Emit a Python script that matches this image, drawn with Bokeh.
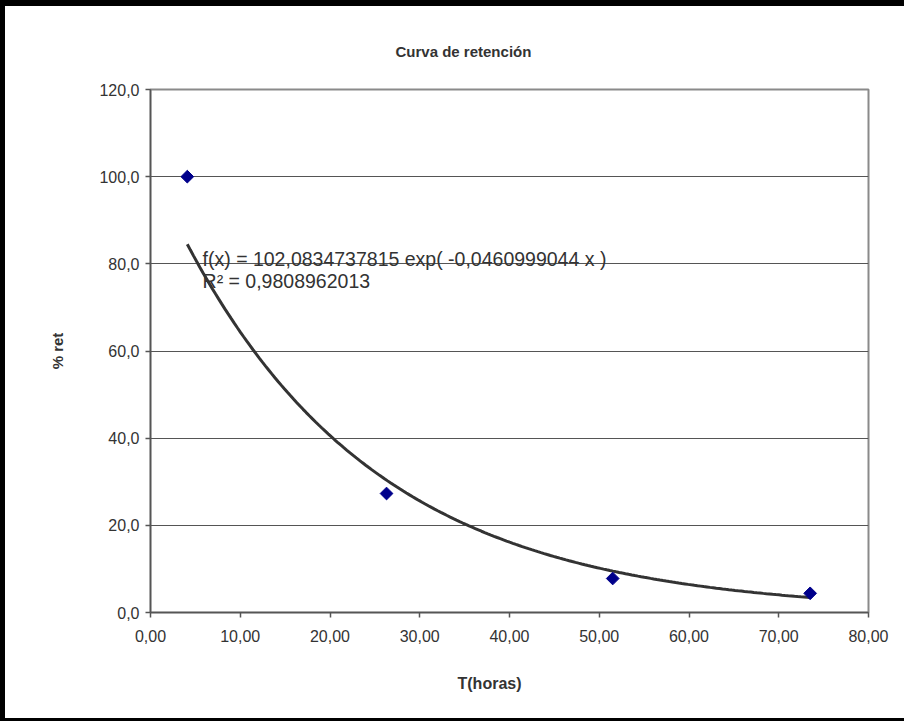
import numpy as np
from bokeh.plotting import figure
from bokeh.models import Title, FixedTicker, CustomJSTickFormatter, Range1d, Label
from bokeh.embed import file_html
from bokeh.resources import INLINE

# ---- data ----
title_text = "Curva de retención"
x_label = "T(horas)"
y_label = "% ret"
t_horas = [4.1, 26.3, 51.5, 73.5]
pct_ret = [100.0, 27.3, 7.8, 4.4]
# exponential trend line as printed on the chart
fit_a = 102.0834737815
fit_b = -0.0460999044
fit_text = "f(x) = 102,0834737815 exp( -0,0460999044 x )"
r2_text = "R² = 0,9808962013"
x_ticks = [0, 10, 20, 30, 40, 50, 60, 70, 80]
y_ticks = [0, 20, 40, 60, 80, 100, 120]

FONT = "Liberation Sans"
TXT = "#333333"

p = figure(
    width=904, height=721,
    output_backend="svg", toolbar_location=None,
    x_range=Range1d(0, 80), y_range=Range1d(0, 120),
    min_border_left=145, min_border_top=83, min_border_right=41, min_border_bottom=115,
    background_fill_color="white", border_fill_color="white",
)
p.styles = {
    "border-top": "6px solid black",
    "border-left": "5px solid black",
    "border-bottom": "3px solid black",
}

p.outline_line_color = "#8a8a8a"
p.outline_line_width = 2

# title
p.title.text = title_text
p.title.align = "left"
p.title.offset = 245
p.title.standoff = 60
p.title.text_font = FONT
p.title.text_font_size = "15px"
p.title.text_font_style = "bold"
p.title.text_color = TXT

# grid
p.xgrid.visible = False
p.ygrid.ticker = FixedTicker(ticks=y_ticks)
p.ygrid.grid_line_color = "#555555"
p.ygrid.grid_line_width = 1

# axes
p.xaxis.ticker = FixedTicker(ticks=x_ticks)
p.yaxis.ticker = FixedTicker(ticks=y_ticks)
p.xaxis.formatter = CustomJSTickFormatter(code="return tick.toFixed(2).replace('.', ',');")
p.yaxis.formatter = CustomJSTickFormatter(code="return tick.toFixed(1).replace('.', ',');")
for ax in (p.xaxis, p.yaxis):
    ax.axis_line_color = "#555555"
    ax.axis_line_width = 1.5
    ax.major_tick_line_color = "#555555"
    ax.major_tick_line_width = 1.5
    ax.major_tick_out = 5
    ax.major_tick_in = 0
    ax.minor_tick_line_color = None
    ax.major_label_text_font = FONT
    ax.major_label_text_font_size = "16px"
    ax.major_label_text_color = TXT
    ax.axis_label_text_font = FONT
    ax.axis_label_text_font_size = "15px"
    ax.axis_label_text_font_style = "bold"
    ax.axis_label_text_color = TXT
p.yaxis.major_label_standoff = 6
p.xaxis.major_label_standoff = 12
p.yaxis.axis_label = y_label
p.yaxis.axis_label_standoff = 30

# x-axis label placed like the reference (left of frame centre)
p.add_layout(Title(text=x_label, align="left", offset=307, standoff=56, text_font=FONT,
                   text_font_size="16px", text_font_style="bold", text_color=TXT), "below")

# trend line from the printed equation
xs = np.linspace(min(t_horas), max(t_horas), 200)
ys = fit_a * np.exp(fit_b * xs)
p.line(xs, ys, line_color="#333333", line_width=3)

# data points
p.scatter(t_horas, pct_ret, marker="square", angle=np.pi / 4, size=9,
          fill_color="#00008b", line_color="#00008b")

# equation texts
p.add_layout(Label(x=5.8, y=81.0, text=fit_text, text_font=FONT, text_font_size="19.5px",
                   text_color=TXT, text_align="left", text_baseline="middle"))
p.add_layout(Label(x=5.8, y=76.0, text=r2_text, text_font=FONT, text_font_size="19.5px",
                   text_color=TXT, text_align="left", text_baseline="middle"))

open("out.html", "w").write(file_html(p, INLINE))
